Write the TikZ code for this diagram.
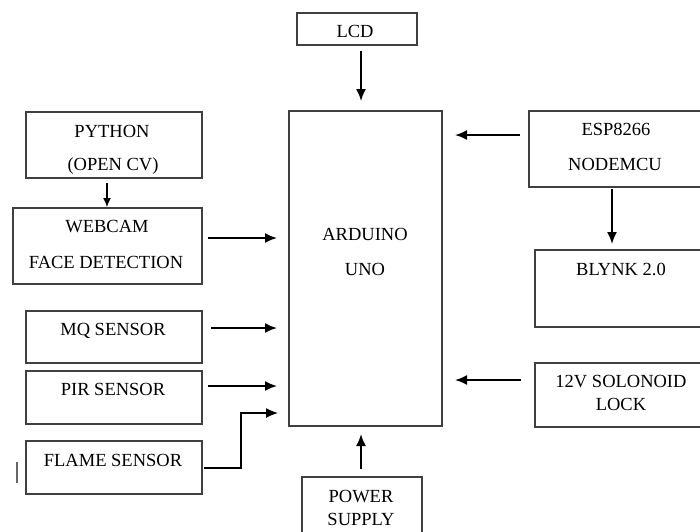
\documentclass[tikz,border=0pt]{standalone}
\usepackage{fontspec}
\setmainfont{Liberation Serif}
\usetikzlibrary{arrows.meta,fit}
\tikzset{
  box/.style={draw=black!75, line width=1.2pt, inner sep=0pt, outer sep=0pt},
  lbl/.style={anchor=base, inner sep=0pt, font=\fontsize{18.5}{22}\selectfont},
  arr/.style={line width=1.8pt, -{Latex[length=12pt,width=10pt]}},
  arrthin/.style={line width=1.2pt, -{Latex[length=9pt,width=8pt]}},
}
\begin{document}
\begin{tikzpicture}[x=1pt,y=-1pt]
\useasboundingbox (0,0) rectangle (700,531);
\clip (0,0) rectangle (700,531);
% boxes
\node[box, fit={(297,13) (417,45)}] (lcd) {};
\node[box, fit={(289,111) (442,426)}] (ard) {};
\node[box, fit={(529,111) (705,187)}] (esp) {};
\node[box, fit={(535,250) (705,327)}] (bly) {};
\node[box, fit={(535,363) (705,427)}] (sol) {};
\node[box, fit={(302,477) (422,545)}] (pow) {};
\node[box, fit={(26,112) (202,178)}] (py) {};
\node[box, fit={(13,208) (202,284)}] (web) {};
\node[box, fit={(26,311) (202,363)}] (mq) {};
\node[box, fit={(26,371) (202,424)}] (pir) {};
\node[box, fit={(26,441) (202,494)}] (fl) {};
% labels
\node[lbl] (tlcd) at (355,37) {LCD};
\node[lbl] (tard1) at (365,240) {ARDUINO};
\node[lbl] (tard2) at (365,275) {UNO};
\node[lbl] (tesp1) at (616,135) {ESP8266};
\node[lbl] (tesp2) at (615,170) {NODEMCU};
\node[lbl] (tbly) at (621,275) {BLYNK 2.0};
\node[lbl] (tsol1) at (621,387) {12V SOLONOID};
\node[lbl] (tsol2) at (621,410) {LOCK};
\node[lbl] (tpow1) at (361,502) {POWER};
\node[lbl] (tpow2) at (361,525) {SUPPLY};
\node[lbl] (tpy1) at (112,137) {PYTHON};
\node[lbl] (tpy2) at (113,170) {(OPEN CV)};
\node[lbl] (tweb1) at (107,232) {WEBCAM};
\node[lbl] (tweb2) at (106,268) {FACE DETECTION};
\node[lbl] (tmq) at (113,335) {MQ SENSOR};
\node[lbl] (tpir) at (113,395) {PIR SENSOR};
\node[lbl] (tfl) at (113,466) {FLAME SENSOR};
% connectors
\draw[arr, shorten <=6pt, shorten >=10pt] (361,0 |- lcd.south) -- (361,0 |- ard.north);
\draw[arr, shorten <=9pt, shorten >=13pt] (esp.west |- 0,135) -- (ard.east |- 0,135);
\draw[arr, shorten <=2pt, shorten >=6pt] (612,0 |- esp.south) -- (612,0 |- bly.north);
\draw[arr, shorten <=14pt, shorten >=13pt] (sol.west |- 0,380) -- (ard.east |- 0,380);
\draw[arr, shorten <=8pt, shorten >=8pt] (361,0 |- pow.north) -- (361,0 |- ard.south);
\draw[arrthin, shorten <=5pt, shorten >=1pt] (107,0 |- py.south) -- (107,0 |- web.north);
\draw[arr, shorten <=6pt, shorten >=12pt] (web.east |- 0,238) -- (ard.west |- 0,238);
\draw[arr, shorten <=9pt, shorten >=12pt] (mq.east |- 0,328) -- (ard.west |- 0,328);
\draw[arr, shorten <=6pt, shorten >=12pt] (pir.east |- 0,386) -- (ard.west |- 0,386);
\draw[line width=1.2pt, -{Latex[length=12pt,width=10pt]}, shorten <=2pt, shorten >=11pt]
  (fl.east |- 0,468) -- (241,468) |- (ard.west |- 0,413);
% stray mark
\draw[black!60, line width=1.2pt] (17,462) -- (17,483);
\end{tikzpicture}
\end{document}
